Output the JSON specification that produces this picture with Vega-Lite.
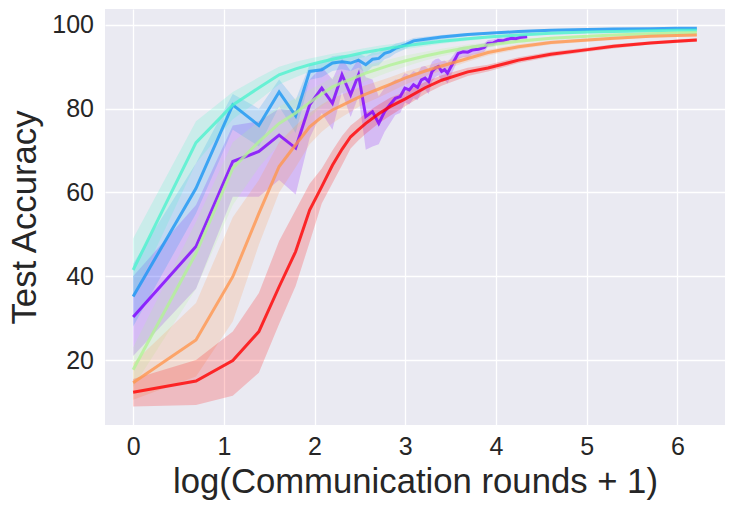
{
  "$schema": "https://vega.github.io/schema/vega-lite/v6.json",
  "width": 620,
  "height": 416,
  "autosize": {"type": "none"},
  "padding": {"left": 105, "top": 9, "right": 9, "bottom": 84},
  "background": "#ffffff",
  "config": {
    "view": {"fill": "#eaeaf2", "stroke": null},
    "axis": {
      "domain": false,
      "ticks": false,
      "grid": true,
      "gridColor": "#ffffff",
      "gridWidth": 1.3,
      "labelFont": "Liberation Sans",
      "labelFontSize": 25,
      "labelColor": "#262626",
      "titleFont": "Liberation Sans",
      "titleFontSize": 34.7,
      "titleFontWeight": "normal",
      "titleColor": "#262626"
    }
  },
  "data": {
    "values": [
      {"run": "p", "lr": 0, "acc": 30.3, "lo": 21, "hi": 40},
      {"run": "p", "lr": 0.6931, "acc": 47.1, "lo": 37, "hi": 57},
      {"run": "p", "lr": 1.0986, "acc": 67.4, "lo": 59, "hi": 76},
      {"run": "p", "lr": 1.3863, "acc": 69.8, "lo": 59, "hi": 77},
      {"run": "p", "lr": 1.6094, "acc": 73.7, "lo": 63, "hi": 80},
      {"run": "p", "lr": 1.7918, "acc": 70.6, "lo": 59.5, "hi": 79.5},
      {"run": "p", "lr": 1.9459, "acc": 80.9, "lo": 73, "hi": 87},
      {"run": "p", "lr": 2.0794, "acc": 84.9, "lo": 79, "hi": 90},
      {"run": "p", "lr": 2.1972, "acc": 81.3, "lo": 75, "hi": 87},
      {"run": "p", "lr": 2.3026, "acc": 88.1, "lo": 84, "hi": 92},
      {"run": "p", "lr": 2.3979, "acc": 83.3, "lo": 78, "hi": 89},
      {"run": "p", "lr": 2.4849, "acc": 88.1, "lo": 83, "hi": 92},
      {"run": "p", "lr": 2.5649, "acc": 78.1, "lo": 70.2, "hi": 87.5},
      {"run": "p", "lr": 2.6391, "acc": 79.3, "lo": 71, "hi": 87},
      {"run": "p", "lr": 2.7081, "acc": 76.5, "lo": 71.5, "hi": 83},
      {"run": "p", "lr": 2.7726, "acc": 79.3, "lo": 74.5, "hi": 85},
      {"run": "p", "lr": 2.8332, "acc": 81, "lo": 76.5, "hi": 86},
      {"run": "p", "lr": 2.8904, "acc": 82.5, "lo": 78.5, "hi": 87},
      {"run": "p", "lr": 2.9444, "acc": 82.9, "lo": 79, "hi": 87},
      {"run": "p", "lr": 2.9957, "acc": 84.9, "lo": 81.5, "hi": 88.5},
      {"run": "p", "lr": 3.0445, "acc": 84.5, "lo": 81, "hi": 88},
      {"run": "p", "lr": 3.091, "acc": 85.7, "lo": 82.5, "hi": 89},
      {"run": "p", "lr": 3.1355, "acc": 85.1, "lo": 82, "hi": 88.5},
      {"run": "p", "lr": 3.1781, "acc": 86.9, "lo": 84, "hi": 90},
      {"run": "p", "lr": 3.2189, "acc": 87.3, "lo": 84.5, "hi": 90.2},
      {"run": "p", "lr": 3.2581, "acc": 86.5, "lo": 83.5, "hi": 89.5},
      {"run": "p", "lr": 3.2958, "acc": 88.9, "lo": 86.5, "hi": 91.2},
      {"run": "p", "lr": 3.3322, "acc": 89.7, "lo": 87.5, "hi": 91.8},
      {"run": "p", "lr": 3.3673, "acc": 90.1, "lo": 88, "hi": 92},
      {"run": "p", "lr": 3.4012, "acc": 88.9, "lo": 86.5, "hi": 91.3},
      {"run": "p", "lr": 3.434, "acc": 89.3, "lo": 87, "hi": 91.5},
      {"run": "p", "lr": 3.4657, "acc": 88.5, "lo": 86, "hi": 91},
      {"run": "p", "lr": 3.5264, "acc": 90.9, "lo": 89, "hi": 92.7},
      {"run": "p", "lr": 3.5835, "acc": 93.2, "lo": 91.8, "hi": 94.5},
      {"run": "p", "lr": 3.6376, "acc": 93.6, "lo": 92.3, "hi": 94.8},
      {"run": "p", "lr": 3.6889, "acc": 93.5, "lo": 92.2, "hi": 94.8},
      {"run": "p", "lr": 3.7377, "acc": 94.0, "lo": 92.8, "hi": 95.1},
      {"run": "p", "lr": 3.8067, "acc": 94.2, "lo": 93.1, "hi": 95.3},
      {"run": "p", "lr": 3.8712, "acc": 94.6, "lo": 93.6, "hi": 95.6},
      {"run": "p", "lr": 3.912, "acc": 95.6, "lo": 94.8, "hi": 96.4},
      {"run": "p", "lr": 3.9703, "acc": 95.7, "lo": 94.9, "hi": 96.5},
      {"run": "p", "lr": 4.0254, "acc": 96.3, "lo": 95.6, "hi": 97},
      {"run": "p", "lr": 4.0775, "acc": 96.2, "lo": 95.5, "hi": 96.9},
      {"run": "p", "lr": 4.1271, "acc": 96.6, "lo": 96, "hi": 97.2},
      {"run": "p", "lr": 4.1744, "acc": 96.8, "lo": 96.2, "hi": 97.4},
      {"run": "p", "lr": 4.2195, "acc": 96.7, "lo": 96.1, "hi": 97.3},
      {"run": "p", "lr": 4.2627, "acc": 97.0, "lo": 96.5, "hi": 97.5},
      {"run": "p", "lr": 4.3041, "acc": 97.1, "lo": 96.6, "hi": 97.6},
      {"run": "p", "lr": 4.3438, "acc": 97.2, "lo": 96.8, "hi": 97.6},

      {"run": "b", "lr": 0, "acc": 35.2, "lo": 28, "hi": 43},
      {"run": "b", "lr": 0.6931, "acc": 61, "lo": 55, "hi": 67},
      {"run": "b", "lr": 1.0986, "acc": 80.9, "lo": 75, "hi": 83.5},
      {"run": "b", "lr": 1.3863, "acc": 76, "lo": 71, "hi": 80},
      {"run": "b", "lr": 1.6094, "acc": 84, "lo": 80.5, "hi": 87},
      {"run": "b", "lr": 1.7918, "acc": 78.3, "lo": 74.2, "hi": 82.1},
      {"run": "b", "lr": 1.9459, "acc": 88.9, "lo": 86.9, "hi": 90.5},
      {"run": "b", "lr": 2.0794, "acc": 89.3, "lo": 87.5, "hi": 91},
      {"run": "b", "lr": 2.1972, "acc": 90.9, "lo": 89, "hi": 92.5},
      {"run": "b", "lr": 2.3026, "acc": 91.2, "lo": 89.4, "hi": 92.8},
      {"run": "b", "lr": 2.3979, "acc": 90.9, "lo": 89, "hi": 92.6},
      {"run": "b", "lr": 2.4849, "acc": 91.6, "lo": 89.8, "hi": 93.2},
      {"run": "b", "lr": 2.5649, "acc": 90.5, "lo": 88.5, "hi": 92.4},
      {"run": "b", "lr": 2.6391, "acc": 91.8, "lo": 90.1, "hi": 93.4},
      {"run": "b", "lr": 2.7081, "acc": 92, "lo": 90.4, "hi": 93.5},
      {"run": "b", "lr": 2.7726, "acc": 93.2, "lo": 91.8, "hi": 94.5},
      {"run": "b", "lr": 2.8332, "acc": 93.6, "lo": 92.3, "hi": 94.8},
      {"run": "b", "lr": 2.8904, "acc": 94.4, "lo": 93.2, "hi": 95.5},
      {"run": "b", "lr": 2.9957, "acc": 95.2, "lo": 94.2, "hi": 96.1},
      {"run": "b", "lr": 3.091, "acc": 96.2, "lo": 95.4, "hi": 96.9},
      {"run": "b", "lr": 3.2189, "acc": 96.6, "lo": 95.9, "hi": 97.2},
      {"run": "b", "lr": 3.4012, "acc": 97.1, "lo": 96.6, "hi": 97.6},
      {"run": "b", "lr": 3.6889, "acc": 97.7, "lo": 97.3, "hi": 98.1},
      {"run": "b", "lr": 3.912, "acc": 98.0, "lo": 97.7, "hi": 98.3},
      {"run": "b", "lr": 4.2485, "acc": 98.4, "lo": 98.1, "hi": 98.7},
      {"run": "b", "lr": 4.6052, "acc": 98.7, "lo": 98.4, "hi": 99},
      {"run": "b", "lr": 5.0106, "acc": 98.9, "lo": 98.6, "hi": 99.2},
      {"run": "b", "lr": 5.2983, "acc": 99.0, "lo": 98.7, "hi": 99.3},
      {"run": "b", "lr": 5.7038, "acc": 99.1, "lo": 98.8, "hi": 99.3},
      {"run": "b", "lr": 5.9915, "acc": 99.2, "lo": 98.9, "hi": 99.4},
      {"run": "b", "lr": 6.2146, "acc": 99.2, "lo": 98.9, "hi": 99.4},

      {"run": "c", "lr": 0, "acc": 41.5, "lo": 35, "hi": 49},
      {"run": "c", "lr": 0.6931, "acc": 71.9, "lo": 67, "hi": 77},
      {"run": "c", "lr": 1.0986, "acc": 80.9, "lo": 77.5, "hi": 84},
      {"run": "c", "lr": 1.3863, "acc": 85, "lo": 82, "hi": 87.5},
      {"run": "c", "lr": 1.6094, "acc": 88.1, "lo": 85.8, "hi": 90},
      {"run": "c", "lr": 1.7918, "acc": 89.5, "lo": 87.5, "hi": 91.2},
      {"run": "c", "lr": 1.9459, "acc": 90.5, "lo": 88.8, "hi": 92},
      {"run": "c", "lr": 2.0794, "acc": 91.2, "lo": 89.7, "hi": 92.6},
      {"run": "c", "lr": 2.1972, "acc": 91.8, "lo": 90.4, "hi": 93.1},
      {"run": "c", "lr": 2.3026, "acc": 92.3, "lo": 91, "hi": 93.5},
      {"run": "c", "lr": 2.3979, "acc": 92.7, "lo": 91.5, "hi": 93.8},
      {"run": "c", "lr": 2.4849, "acc": 93.1, "lo": 92, "hi": 94.2},
      {"run": "c", "lr": 2.5649, "acc": 93.5, "lo": 92.4, "hi": 94.5},
      {"run": "c", "lr": 2.7081, "acc": 94, "lo": 93, "hi": 95},
      {"run": "c", "lr": 2.8332, "acc": 94.5, "lo": 93.6, "hi": 95.4},
      {"run": "c", "lr": 2.9957, "acc": 95, "lo": 94.2, "hi": 95.8},
      {"run": "c", "lr": 3.2189, "acc": 95.6, "lo": 94.9, "hi": 96.3},
      {"run": "c", "lr": 3.4012, "acc": 96.1, "lo": 95.5, "hi": 96.7},
      {"run": "c", "lr": 3.6889, "acc": 96.7, "lo": 96.2, "hi": 97.2},
      {"run": "c", "lr": 3.912, "acc": 97.1, "lo": 96.7, "hi": 97.5},
      {"run": "c", "lr": 4.2485, "acc": 97.6, "lo": 97.2, "hi": 98},
      {"run": "c", "lr": 4.6052, "acc": 98, "lo": 97.7, "hi": 98.3},
      {"run": "c", "lr": 5.0106, "acc": 98.3, "lo": 98, "hi": 98.6},
      {"run": "c", "lr": 5.2983, "acc": 98.4, "lo": 98.1, "hi": 98.7},
      {"run": "c", "lr": 5.7038, "acc": 98.6, "lo": 98.3, "hi": 98.9},
      {"run": "c", "lr": 5.9915, "acc": 98.7, "lo": 98.4, "hi": 99},
      {"run": "c", "lr": 6.2146, "acc": 98.7, "lo": 98.4, "hi": 99},

      {"run": "g", "lr": 0, "acc": 17.7, "lo": 13.5, "hi": 23},
      {"run": "g", "lr": 0.6931, "acc": 45.5, "lo": 37, "hi": 53},
      {"run": "g", "lr": 1.0986, "acc": 65.8, "lo": 57, "hi": 72},
      {"run": "g", "lr": 1.3863, "acc": 72.1, "lo": 66, "hi": 77},
      {"run": "g", "lr": 1.6094, "acc": 76.5, "lo": 71.5, "hi": 80.5},
      {"run": "g", "lr": 1.7918, "acc": 79, "lo": 75, "hi": 82.5},
      {"run": "g", "lr": 1.9459, "acc": 81.5, "lo": 78, "hi": 84.5},
      {"run": "g", "lr": 2.0794, "acc": 83.5, "lo": 80.5, "hi": 86},
      {"run": "g", "lr": 2.1972, "acc": 85.2, "lo": 82.5, "hi": 87.5},
      {"run": "g", "lr": 2.3026, "acc": 86.2, "lo": 83.8, "hi": 88.4},
      {"run": "g", "lr": 2.3979, "acc": 87, "lo": 84.8, "hi": 89},
      {"run": "g", "lr": 2.4849, "acc": 87.8, "lo": 85.7, "hi": 89.7},
      {"run": "g", "lr": 2.5649, "acc": 88.5, "lo": 86.6, "hi": 90.3},
      {"run": "g", "lr": 2.7081, "acc": 89.5, "lo": 87.8, "hi": 91.1},
      {"run": "g", "lr": 2.8332, "acc": 90.4, "lo": 88.8, "hi": 91.8},
      {"run": "g", "lr": 2.9957, "acc": 91.4, "lo": 90, "hi": 92.7},
      {"run": "g", "lr": 3.2189, "acc": 92.6, "lo": 91.5, "hi": 93.6},
      {"run": "g", "lr": 3.4012, "acc": 93.4, "lo": 92.5, "hi": 94.3},
      {"run": "g", "lr": 3.6889, "acc": 94.6, "lo": 93.9, "hi": 95.3},
      {"run": "g", "lr": 3.912, "acc": 95.2, "lo": 94.6, "hi": 95.8},
      {"run": "g", "lr": 4.2485, "acc": 96.1, "lo": 95.6, "hi": 96.6},
      {"run": "g", "lr": 4.6052, "acc": 96.8, "lo": 96.4, "hi": 97.2},
      {"run": "g", "lr": 5.0106, "acc": 97.3, "lo": 97, "hi": 97.6},
      {"run": "g", "lr": 5.2983, "acc": 97.6, "lo": 97.3, "hi": 97.9},
      {"run": "g", "lr": 5.7038, "acc": 97.9, "lo": 97.6, "hi": 98.2},
      {"run": "g", "lr": 5.9915, "acc": 98.1, "lo": 97.8, "hi": 98.4},
      {"run": "g", "lr": 6.2146, "acc": 98.2, "lo": 97.9, "hi": 98.5},

      {"run": "o", "lr": 0, "acc": 14.6, "lo": 10.5, "hi": 19.3},
      {"run": "o", "lr": 0.6931, "acc": 24.8, "lo": 16.1, "hi": 33.6},
      {"run": "o", "lr": 1.0986, "acc": 39.9, "lo": 29.2, "hi": 54.1},
      {"run": "o", "lr": 1.3863, "acc": 55, "lo": 47.5, "hi": 63},
      {"run": "o", "lr": 1.6094, "acc": 66.2, "lo": 60, "hi": 72},
      {"run": "o", "lr": 1.7918, "acc": 71.4, "lo": 66, "hi": 76},
      {"run": "o", "lr": 1.9459, "acc": 75.7, "lo": 71.5, "hi": 79},
      {"run": "o", "lr": 2.0794, "acc": 78, "lo": 74.5, "hi": 81},
      {"run": "o", "lr": 2.1972, "acc": 79.7, "lo": 76.5, "hi": 82.5},
      {"run": "o", "lr": 2.3026, "acc": 80.8, "lo": 78, "hi": 83.4},
      {"run": "o", "lr": 2.3979, "acc": 81.8, "lo": 79.3, "hi": 84.2},
      {"run": "o", "lr": 2.4849, "acc": 82.7, "lo": 80.4, "hi": 85},
      {"run": "o", "lr": 2.5649, "acc": 83.5, "lo": 81.3, "hi": 85.6},
      {"run": "o", "lr": 2.7081, "acc": 84.7, "lo": 82.7, "hi": 86.6},
      {"run": "o", "lr": 2.8332, "acc": 85.8, "lo": 84, "hi": 87.5},
      {"run": "o", "lr": 2.9957, "acc": 87.3, "lo": 85.7, "hi": 88.8},
      {"run": "o", "lr": 3.2189, "acc": 89, "lo": 87.7, "hi": 90.2},
      {"run": "o", "lr": 3.4012, "acc": 90.2, "lo": 89.1, "hi": 91.2},
      {"run": "o", "lr": 3.6889, "acc": 92, "lo": 91.2, "hi": 92.8},
      {"run": "o", "lr": 3.912, "acc": 93.4, "lo": 92.7, "hi": 94.1},
      {"run": "o", "lr": 4.2485, "acc": 94.8, "lo": 94.2, "hi": 95.4},
      {"run": "o", "lr": 4.6052, "acc": 95.8, "lo": 95.3, "hi": 96.3},
      {"run": "o", "lr": 5.0106, "acc": 96.4, "lo": 96, "hi": 96.8},
      {"run": "o", "lr": 5.2983, "acc": 96.8, "lo": 96.4, "hi": 97.1},
      {"run": "o", "lr": 5.7038, "acc": 97.3, "lo": 97, "hi": 97.6},
      {"run": "o", "lr": 5.9915, "acc": 97.5, "lo": 97.2, "hi": 97.8},
      {"run": "o", "lr": 6.2146, "acc": 97.6, "lo": 97.3, "hi": 97.9},

      {"run": "r", "lr": 0, "acc": 12.3, "lo": 8.9, "hi": 15.5},
      {"run": "r", "lr": 0.6931, "acc": 15.0, "lo": 9.3, "hi": 20.0},
      {"run": "r", "lr": 1.0986, "acc": 19.9, "lo": 11.5, "hi": 26.8},
      {"run": "r", "lr": 1.3863, "acc": 26.8, "lo": 17.0, "hi": 36.0},
      {"run": "r", "lr": 1.6094, "acc": 37.5, "lo": 28.6, "hi": 48.4},
      {"run": "r", "lr": 1.7918, "acc": 45.9, "lo": 37.7, "hi": 55.8},
      {"run": "r", "lr": 1.9459, "acc": 55.8, "lo": 48.1, "hi": 62.1},
      {"run": "r", "lr": 2.0794, "acc": 61.4, "lo": 57.4, "hi": 65.7},
      {"run": "r", "lr": 2.1972, "acc": 66.5, "lo": 62.2, "hi": 70},
      {"run": "r", "lr": 2.3026, "acc": 70.3, "lo": 66.5, "hi": 73.5},
      {"run": "r", "lr": 2.3979, "acc": 73.3, "lo": 70.5, "hi": 76},
      {"run": "r", "lr": 2.4849, "acc": 75.0, "lo": 72.5, "hi": 77.5},
      {"run": "r", "lr": 2.5649, "acc": 76.5, "lo": 74, "hi": 79},
      {"run": "r", "lr": 2.7081, "acc": 78.8, "lo": 76.5, "hi": 81},
      {"run": "r", "lr": 2.8332, "acc": 80.5, "lo": 78.3, "hi": 82.6},
      {"run": "r", "lr": 2.9957, "acc": 82.3, "lo": 80.5, "hi": 84},
      {"run": "r", "lr": 3.2189, "acc": 85.0, "lo": 83.5, "hi": 86.4},
      {"run": "r", "lr": 3.4012, "acc": 86.8, "lo": 85.5, "hi": 88},
      {"run": "r", "lr": 3.6889, "acc": 88.8, "lo": 87.8, "hi": 89.8},
      {"run": "r", "lr": 3.912, "acc": 89.7, "lo": 88.9, "hi": 90.5},
      {"run": "r", "lr": 4.2485, "acc": 91.6, "lo": 90.9, "hi": 92.3},
      {"run": "r", "lr": 4.6052, "acc": 93.0, "lo": 92.4, "hi": 93.6},
      {"run": "r", "lr": 5.0106, "acc": 94.1, "lo": 93.6, "hi": 94.6},
      {"run": "r", "lr": 5.2983, "acc": 94.9, "lo": 94.4, "hi": 95.4},
      {"run": "r", "lr": 5.7038, "acc": 95.7, "lo": 95.3, "hi": 96.1},
      {"run": "r", "lr": 5.9915, "acc": 96.1, "lo": 95.7, "hi": 96.5},
      {"run": "r", "lr": 6.2146, "acc": 96.4, "lo": 96, "hi": 96.8}
    ]
  },
  "encoding": {
    "x": {
      "field": "lr",
      "type": "quantitative",
      "scale": {"domain": [-0.31, 6.525], "nice": false, "zero": false},
      "axis": {
        "values": [0, 1, 2, 3, 4, 5, 6],
        "labelPadding": 9.5,
        "labelFlush": false,
        "title": "log(Communication rounds + 1)",
        "titleX": 310,
        "titleY": 67,
        "titleBaseline": "alphabetic",
        "titleAlign": "center"
      }
    },
    "color": {
      "field": "run",
      "type": "nominal",
      "scale": {
        "domain": ["p", "b", "c", "g", "o", "r"],
        "range": ["#8000ff", "#1a96f3", "#4df3ce", "#b3f396", "#ff964f", "#ff0000"]
      },
      "legend": null
    }
  },
  "layer": [
    {
      "mark": {"type": "area", "opacity": 0.2},
      "encoding": {
        "y": {
          "field": "lo",
          "type": "quantitative",
          "scale": {"domain": [4.5, 103.8], "nice": false, "zero": false},
          "title": "Test Accuracy"
        },
        "y2": {"field": "hi"}
      }
    },
    {
      "mark": {"type": "line", "opacity": 0.8, "strokeWidth": 3},
      "encoding": {
        "y": {
          "field": "acc",
          "type": "quantitative",
          "scale": {"domain": [4.5, 103.8], "nice": false, "zero": false},
          "axis": {
            "values": [20, 40, 60, 80, 100],
            "labelPadding": 11.5,
            "title": "Test Accuracy",
            "titleX": -70,
            "titleY": 208,
            "titleAngle": -90,
            "titleBaseline": "alphabetic",
            "titleAlign": "center"
          }
        }
      }
    }
  ]
}
